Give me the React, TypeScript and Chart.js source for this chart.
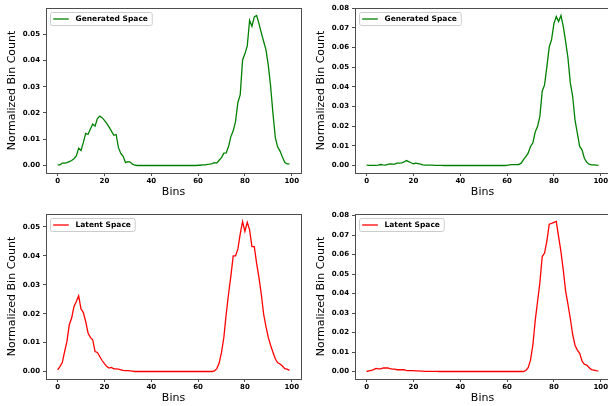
import React, { useEffect, useRef } from "react";
import { Chart, registerables } from "chart.js";

Chart.register(...registerables);

const bins = [
  0, 1, 2, 3, 4, 5, 6, 7, 8, 9, 10, 11, 12, 13, 14, 15, 16, 17, 18, 19,
  20, 21, 22, 23, 24, 25, 26, 27, 28, 29, 30, 31, 32, 33, 34, 35, 36, 37, 38, 39,
  40, 41, 42, 43, 44, 45, 46, 47, 48, 49, 50, 51, 52, 53, 54, 55, 56, 57, 58, 59,
  60, 61, 62, 63, 64, 65, 66, 67, 68, 69, 70, 71, 72, 73, 74, 75, 76, 77, 78, 79,
  80, 81, 82, 83, 84, 85, 86, 87, 88, 89, 90, 91, 92, 93, 94, 95, 96, 97, 98, 99,
];

const xTicks = [0, 20, 40, 60, 80, 100];
const yTicksSmall = [0, 0.01, 0.02, 0.03, 0.04, 0.05];
const yTicksLarge = [0, 0.01, 0.02, 0.03, 0.04, 0.05, 0.06, 0.07, 0.08];

// Top-left: Generated Space
const generatedA = [
  0.0002, 0.0002, 0.0009, 0.0009, 0.0011, 0.0015, 0.0019, 0.0026, 0.0036, 0.0066,
  0.0057, 0.0088, 0.0122, 0.0118, 0.0139, 0.0158, 0.0150, 0.0179, 0.0188, 0.0182,
  0.0172, 0.0160, 0.0146, 0.0131, 0.0115, 0.0118, 0.0068, 0.0046, 0.0035, 0.0011,
  0.0015, 0.0013, 0.0005, 0.0001, 0, 0, 0, 0, 0, 0,
  0, 0, 0, 0, 0, 0, 0, 0, 0, 0,
  0, 0, 0, 0, 0, 0, 0, 0, 0, 0,
  0.0001, 0.0001, 0.0002, 0.0002, 0.0004, 0.0005, 0.0007, 0.0011, 0.0009, 0.0020,
  0.0030, 0.0047, 0.0048, 0.0072, 0.0110, 0.0132, 0.0168, 0.0240, 0.0270, 0.0402,
  0.0425, 0.0455, 0.0553, 0.0530, 0.0566, 0.0571, 0.0540, 0.0505, 0.0472, 0.0440,
  0.0380, 0.0300, 0.0195, 0.0105, 0.0070, 0.0055, 0.0032, 0.0012, 0.0006, 0.0006,
];

// Top-right: Generated Space
const generatedB = [
  0.0002, 0.0001, 0.0001, 0.0001, 0.0001, 0.0002, 0.0005, 0.0003, 0.0002, 0.0006,
  0.0008, 0.0007, 0.0007, 0.0012, 0.0012, 0.0013, 0.0018, 0.0025, 0.0020, 0.0014,
  0.0009, 0.0012, 0.0010, 0.0007, 0.0003, 0.0002, 0.0002, 0.0002, 0.0002, 0.0001,
  0.0001, 0.0001, 0.0001, 0, 0, 0, 0, 0, 0, 0,
  0, 0, 0, 0, 0, 0, 0, 0, 0, 0,
  0, 0, 0, 0, 0, 0, 0, 0, 0, 0,
  0.0001, 0.0003, 0.0004, 0.0004, 0.0004, 0.0005, 0.0012, 0.0030, 0.0045, 0.0063,
  0.0097, 0.0115, 0.0170, 0.0198, 0.0250, 0.0378, 0.0410, 0.0503, 0.0603, 0.0640,
  0.0722, 0.0758, 0.0732, 0.0763, 0.0708, 0.0630, 0.0546, 0.0420, 0.0352, 0.0232,
  0.0164, 0.0097, 0.0080, 0.0037, 0.0017, 0.0007, 0.0003, 0.0003, 0.0002, 0.0001,
];

// Bottom-left: Latent Space
const latentA = [
  0.0006, 0.0017, 0.0031, 0.0069, 0.0104, 0.0162, 0.0185, 0.0225, 0.0242, 0.0262,
  0.0216, 0.0204, 0.0173, 0.0133, 0.0118, 0.0110, 0.0069, 0.0066, 0.0052, 0.0038,
  0.0027, 0.0017, 0.0012, 0.0014, 0.0009, 0.0009, 0.0008, 0.0006, 0.0004, 0.0003,
  0.0003, 0.0002, 0.0001, 0, 0, 0, 0, 0, 0, 0,
  0, 0, 0, 0, 0, 0, 0, 0, 0, 0,
  0, 0, 0, 0, 0, 0, 0, 0, 0, 0,
  0, 0, 0, 0, 0, 0, 0, 0.0002, 0.0010, 0.0029,
  0.0066, 0.0118, 0.0198, 0.0268, 0.0330, 0.0400, 0.0400, 0.0424, 0.0476, 0.0519,
  0.0485, 0.0516, 0.0490, 0.0432, 0.0432, 0.0374, 0.0325, 0.0267, 0.0198, 0.0155,
  0.0117, 0.0090, 0.0066, 0.0043, 0.0030, 0.0026, 0.0019, 0.0010, 0.0008, 0.0004,
];

// Bottom-right: Latent Space
const latentB = [
  0.0000, 0.0003, 0.0006, 0.0010, 0.0016, 0.0013, 0.0013, 0.0019, 0.0018, 0.0019,
  0.0015, 0.0012, 0.0012, 0.0009, 0.0010, 0.0009, 0.0010, 0.0005, 0.0005, 0.0004,
  0.0004, 0.0003, 0.0003, 0.0002, 0.0002, 0.0001, 0.0001, 0.0001, 0.0001, 0.0001,
  0.0001, 0, 0, 0, 0, 0, 0, 0, 0, 0,
  0, 0, 0, 0, 0, 0, 0, 0, 0, 0,
  0, 0, 0, 0, 0, 0, 0, 0, 0, 0,
  0, 0, 0, 0, 0, 0, 0, 0, 0.0005, 0.0020,
  0.0058, 0.0135, 0.0260, 0.0358, 0.0456, 0.0590, 0.0608, 0.0670, 0.0756, 0.0760,
  0.0765, 0.0770, 0.0692, 0.0615, 0.0520, 0.0413, 0.0345, 0.0272, 0.0190, 0.0135,
  0.0110, 0.0093, 0.0054, 0.0037, 0.0033, 0.0021, 0.0010, 0.0007, 0.0004, 0.0003,
];

const SPINE = "#4d4d4d";
const FONT = "DejaVu Sans";

const framePlugin = {
  id: "frame",
  afterDraw(chart: any) {
    const { ctx, chartArea } = chart;
    const l = Math.round(chartArea.left) + 0.5;
    const t = Math.round(chartArea.top) + 0.5;
    const r = Math.round(chartArea.right) + 0.5;
    const b = Math.round(chartArea.bottom) + 0.5;
    ctx.save();
    ctx.strokeStyle = SPINE;
    ctx.lineWidth = 1;
    ctx.strokeRect(l, t, r - l, b - t);
    ctx.restore();
  },
};

const legendPlugin = {
  id: "innerLegend",
  afterDraw(chart: any) {
    const { ctx, chartArea } = chart;
    const ds = chart.data.datasets[0];
    ctx.save();
    ctx.font = `bold 7.5px "${FONT}"`;
    const tw = ctx.measureText(ds.label).width;
    const x = Math.round(chartArea.left) + 4.5;
    const y = Math.round(chartArea.top) + 4.5;
    const h = 13;
    const w = 2.7 + 15.6 + 6.7 + tw + 4.3;
    const rad = 2;
    ctx.beginPath();
    ctx.moveTo(x + rad, y);
    ctx.lineTo(x + w - rad, y);
    ctx.arcTo(x + w, y, x + w, y + rad, rad);
    ctx.lineTo(x + w, y + h - rad);
    ctx.arcTo(x + w, y + h, x + w - rad, y + h, rad);
    ctx.lineTo(x + rad, y + h);
    ctx.arcTo(x, y + h, x, y + h - rad, rad);
    ctx.lineTo(x, y + rad);
    ctx.arcTo(x, y, x + rad, y, rad);
    ctx.closePath();
    ctx.fillStyle = "rgba(255,255,255,0.8)";
    ctx.fill();
    ctx.strokeStyle = "#cccccc";
    ctx.lineWidth = 1;
    ctx.stroke();
    const cy = y + h / 2;
    ctx.beginPath();
    ctx.moveTo(x + 2.7, cy);
    ctx.lineTo(x + 18.3, cy);
    ctx.strokeStyle = ds.borderColor;
    ctx.lineWidth = 1.3;
    ctx.stroke();
    ctx.fillStyle = "#000";
    ctx.textBaseline = "middle";
    ctx.textAlign = "left";
    ctx.fillText(ds.label, x + 25, cy + 0.5);
    ctx.restore();
  },
};

function makeConfig(label: string, color: string, values: number[], yTicks: number[]): any {
  const lo = Math.min(...values);
  const hi = Math.max(...values);
  const yPad = (hi - lo) * 0.05;
  const xLo = bins[0];
  const xHi = bins[bins.length - 1];
  const xPad = (xHi - xLo) * 0.05;
  const tickFont = { family: FONT, size: 7, weight: "bold" as const };
  const titleFont = { family: FONT, size: 11, weight: "normal" as const };
  return {
    type: "line",
    data: {
      datasets: [
        {
          label,
          data: bins.map((b, i) => ({ x: b, y: values[i] })),
          borderColor: color,
          backgroundColor: color,
          borderWidth: 1.3,
          pointRadius: 0,
          fill: false,
          tension: 0,
        },
      ],
    },
    options: {
      animation: false,
      responsive: false,
      events: [],
      layout: { padding: { top: 8, right: 3, left: 0, bottom: 0 }, autoPadding: false },
      plugins: { legend: { display: false }, tooltip: { enabled: false } },
      scales: {
        x: {
          type: "linear",
          min: xLo - xPad,
          max: xHi + xPad,
          afterBuildTicks: (ax: any) => {
            ax.ticks = xTicks.map((v) => ({ value: v }));
          },
          afterFit: (s: any) => {
            s.height = 30;
          },
          ticks: {
            font: tickFont,
            color: "#000",
            padding: 1,
            maxRotation: 0,
            autoSkip: false,
            callback: (v: any) => String(v),
          },
          grid: {
            display: true,
            drawOnChartArea: false,
            drawTicks: true,
            tickLength: 3,
            color: SPINE,
          },
          border: { display: false },
          title: {
            display: true,
            text: "Bins",
            font: titleFont,
            color: "#000",
            padding: { top: 0, bottom: 4 },
          },
        },
        y: {
          type: "linear",
          min: lo - yPad,
          max: hi + yPad,
          afterBuildTicks: (ax: any) => {
            ax.ticks = yTicks.map((v) => ({ value: v }));
          },
          afterFit: (s: any) => {
            s.width = 46;
          },
          ticks: {
            font: tickFont,
            color: "#000",
            padding: 3,
            autoSkip: false,
            callback: (v: any) => Number(v).toFixed(2),
          },
          grid: {
            display: true,
            drawOnChartArea: false,
            drawTicks: true,
            tickLength: 3,
            color: SPINE,
          },
          border: { display: false },
          title: {
            display: true,
            text: "Normalized Bin Count",
            font: titleFont,
            color: "#000",
            padding: { top: 6, bottom: 0 },
          },
        },
      },
    },
    plugins: [framePlugin, legendPlugin],
  };
}

function Panel(props: { left: number; top: number; label: string; color: string; values: number[]; yTicks: number[] }) {
  const ref = useRef<HTMLCanvasElement | null>(null);
  useEffect(() => {
    if (!ref.current) return;
    const chart = new Chart(ref.current, makeConfig(props.label, props.color, props.values, props.yTicks));
    return () => chart.destroy();
  }, []);
  return (
    <canvas
      ref={ref}
      width={304}
      height={203}
      style={{ position: "absolute", left: props.left, top: props.top, width: 304, height: 203 }}
    />
  );
}

export default function App() {
  return (
    <div
      style={{
        position: "absolute",
        left: 0,
        top: 0,
        width: 608,
        height: 406,
        overflow: "hidden",
        background: "#fff",
      }}
    >
      <Panel left={0} top={0} label="Generated Space" color="#008000" values={generatedA} yTicks={yTicksSmall} />
      <Panel left={309} top={0} label="Generated Space" color="#008000" values={generatedB} yTicks={yTicksLarge} />
      <Panel left={0} top={206} label="Latent Space" color="#ff0000" values={latentA} yTicks={yTicksSmall} />
      <Panel left={309} top={206} label="Latent Space" color="#ff0000" values={latentB} yTicks={yTicksLarge} />
    </div>
  );
}
